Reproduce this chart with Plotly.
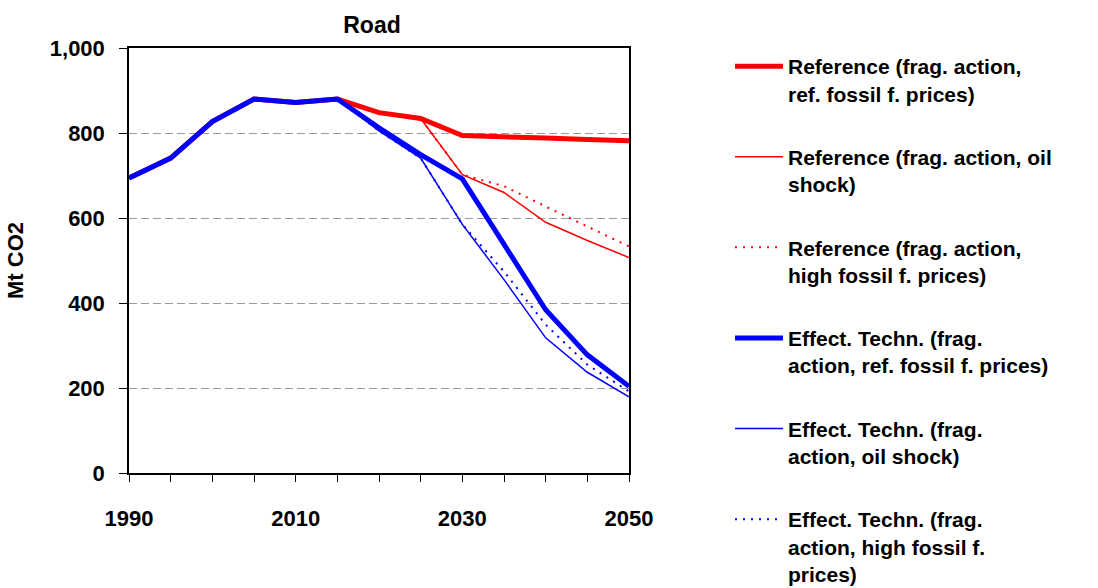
import plotly.graph_objects as go

years = [1990, 1995, 2000, 2005, 2010, 2015, 2020, 2025, 2030, 2035, 2040, 2045, 2050]

ref_fossil = [694, 741, 827, 880, 872, 880, 848, 834, 794, 790, 788, 785, 782]
ref_oil = [694, 741, 827, 880, 872, 880, 848, 834, 702, 660, 590, 547, 507]
ref_high = [694, 741, 827, 880, 872, 880, 848, 834, 702, 675, 627, 580, 533]
et_fossil = [694, 741, 827, 880, 872, 880, 812, 749, 692, 540, 384, 278, 204]
et_oil = [694, 741, 827, 880, 872, 880, 805, 741, 585, 455, 318, 237, 179]
et_high = [694, 741, 827, 880, 872, 880, 805, 741, 585, 474, 349, 255, 192]

names = [
    "Reference (frag. action,<br>ref. fossil f. prices)",
    "Reference (frag. action, oil<br>shock)",
    "Reference (frag. action,<br>high fossil f. prices)",
    "Effect. Techn. (frag.<br>action, ref. fossil f. prices)",
    "Effect. Techn. (frag.<br>action, oil shock)",
    "Effect. Techn. (frag.<br>action, high fossil f.<br>prices)",
]

FONT = "Liberation Sans, Arial, sans-serif"
RED = "#FF0000"
BLUE = "#0000FF"

series = [
    (ref_fossil, RED, 5, "solid"),
    (ref_oil, RED, 1.5, "solid"),
    (ref_high, RED, 2, "2px,6px"),
    (et_fossil, BLUE, 5, "solid"),
    (et_oil, BLUE, 1.5, "solid"),
    (et_high, BLUE, 2, "2px,6px"),
]

fig = go.Figure()
for i, (vals, col, w, dash) in enumerate(series):
    fig.add_trace(go.Scatter(
        x=years, y=vals, mode="lines", name="<b>" + names[i].replace("<br>", "</b><br><b>") + "</b>",
        legendgroup=f"g{i}",
        line=dict(color=col, width=w, dash=dash),
    ))

fig.update_layout(
    width=1098, height=588,
    margin=dict(l=129, r=469, t=48, b=115),
    paper_bgcolor="white", plot_bgcolor="white",
    font=dict(family=FONT, size=22, color="black"),
    title=dict(text="<b>Road</b>", x=372 / 1098, xanchor="center",
               y=1 - 25 / 588, yanchor="middle",
               font=dict(family=FONT, size=23, color="black")),
    showlegend=True,
    legend=dict(
        xref="container", yref="container",
        x=730 / 1098, y=1 - 46 / 588, xanchor="left", yanchor="top",
        font=dict(family=FONT, size=21, color="black"),
        valign="top", tracegroupgap=33, itemwidth=48,
        bgcolor="rgba(0,0,0,0)", maxheight=1.0,
    ),
)

fig.update_xaxes(
    range=[1990, 2050], tickvals=[1990, 2010, 2030, 2050],
    ticktext=["<b>1990</b>", "<b>2010</b>", "<b>2030</b>", "<b>2050</b>"],
    ticks="outside", ticklen=7, tickcolor="black", tickwidth=1,
    minor=dict(dtick=5, tick0=1990, ticks="outside", ticklen=7, tickcolor="black", showgrid=False),
    showline=True, linecolor="black", linewidth=1.5, mirror=True,
    showgrid=False, zeroline=False, ticklabelstandoff=18, automargin=False,
)
fig.update_yaxes(
    range=[0, 1000], tickvals=[0, 200, 400, 600, 800, 1000],
    ticktext=["<b>0</b>", "<b>200</b>", "<b>400</b>", "<b>600</b>", "<b>800</b>", "<b>1,000</b>"],
    ticks="outside", ticklen=8, tickcolor="black", tickwidth=1,
    showline=True, linecolor="black", linewidth=1.5, mirror=True,
    showgrid=True, gridcolor="#999999", griddash="8px,4px", gridwidth=1,
    zeroline=False, ticklabelstandoff=10, automargin=False,
    title=dict(text="<b>Mt CO2</b>", standoff=20,
               font=dict(family=FONT, size=22, color="black")),
)

fig.write_html("out.html", config={"displayModeBar": False},
               post_script="document.body.style.margin='0';document.body.style.overflow='hidden';")
